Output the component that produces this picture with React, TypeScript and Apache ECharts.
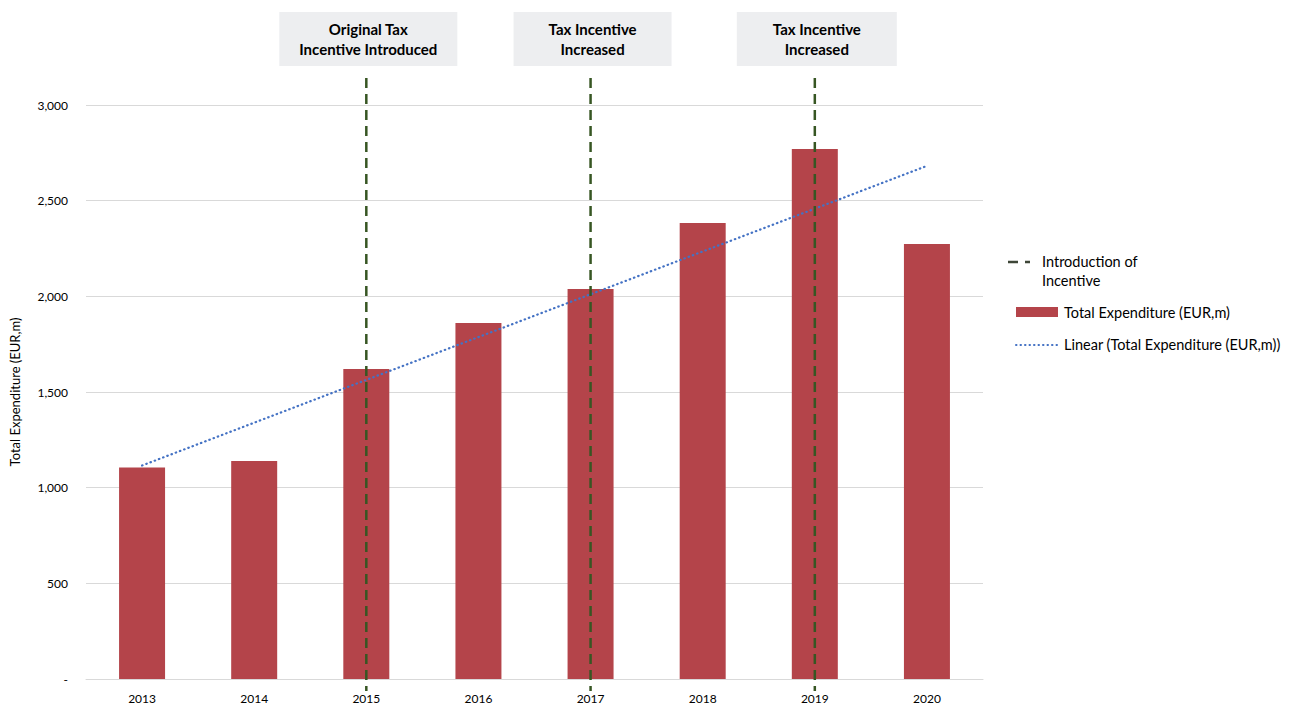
import React, { useEffect, useRef } from "react";
import * as echarts from "echarts";

const years = ["2013", "2014", "2015", "2016", "2017", "2018", "2019", "2020"];
const expenditure = [1105, 1140, 1620, 1861, 2038, 2383, 2770, 2273];
const incentiveYears = ["2015", "2017", "2019"];
const incentiveLabels = [
  "Original Tax\nIncentive Introduced",
  "Tax Incentive\nIncreased",
  "Tax Incentive\nIncreased",
];
const barName = "Total Expenditure (EUR,m)";
const trendName = "Linear (Total Expenditure (EUR,m))";
const incentiveName = "Introduction of\nIncentive";
const yAxisTitle = "Total Expenditure (EUR,m)";

function linearTrend(values: number[]): number[] {
  const n = values.length;
  const mx = (n - 1) / 2;
  const my = values.reduce((a, b) => a + b, 0) / n;
  let sxy = 0;
  let sxx = 0;
  values.forEach((v, i) => {
    sxy += (i - mx) * (v - my);
    sxx += (i - mx) * (i - mx);
  });
  const slope = sxy / sxx;
  const icpt = my - slope * mx;
  return values.map((_, i) => Math.round((icpt + slope * i) * 10) / 10);
}

const FONT = "Lato, 'Noto Sans', sans-serif";
const BOX_FONT = "bold 15px Lato, 'Noto Sans', sans-serif";
const BOX_WIDTHS = [178, 158, 160];

export default function App() {
  const ref = useRef<HTMLDivElement>(null);
  useEffect(() => {
    if (!ref.current) return;
    const chart = echarts.init(ref.current, undefined, { renderer: "svg" });
    const trend = linearTrend(expenditure);
    chart.setOption({
      animation: false,
      backgroundColor: "#ffffff",
      grid: {
        left: 86,
        right: 313,
        top: 105,
        bottom: 28,
        containLabel: false,
        outerBoundsMode: "none",
      },
      xAxis: {
        type: "category",
        data: years,
        axisLine: { show: true, lineStyle: { color: "#D9D9D9", width: 1 } },
        axisTick: { show: false },
        axisLabel: { color: "#000", fontFamily: FONT, fontSize: 12, margin: 13 },
      },
      yAxis: {
        type: "value",
        min: 0,
        max: 3000,
        interval: 500,
        name: yAxisTitle,
        nameLocation: "middle",
        nameGap: 65,
        nameTextStyle: { color: "#000", fontFamily: FONT, fontSize: 13 },
        axisLine: { show: false },
        axisTick: { show: false },
        splitLine: { lineStyle: { color: "#D9D9D9", width: 1 } },
        axisLabel: {
          color: "#000",
          fontFamily: FONT,
          fontSize: 12,
          margin: 18,
          formatter: (v: number) => (v === 0 ? "-" : v.toLocaleString("en-US")),
        },
      },
      series: [
        {
          name: barName,
          type: "bar",
          data: expenditure,
          barWidth: 46,
          itemStyle: { color: "#B4444A" },
          z: 2,
        },
        {
          name: trendName,
          type: "line",
          data: trend,
          symbol: "none",
          lineStyle: { color: "#4472C4", width: 2.2, type: [0.5, 4], cap: "round" },
          z: 3,
        },
      ],
    });

    const top = chart.convertToPixel({ yAxisIndex: 0 }, 3000) as number;
    const bottom = chart.convertToPixel({ yAxisIndex: 0 }, 0) as number;
    const graphics: any[] = [];
    incentiveYears.forEach((yr, i) => {
      const x = chart.convertToPixel({ xAxisIndex: 0 }, yr) as number;
      graphics.push({
        type: "line",
        shape: { x1: x, y1: top - 27, x2: x, y2: bottom + 12 },
        style: { stroke: "#375623", lineWidth: 2.5, lineDash: [10, 6] },
        z: 10,
      });
      const w = BOX_WIDTHS[i];
      graphics.push({
        type: "rect",
        shape: { x: x - w / 2 + 2, y: 12, width: w, height: 54 },
        style: { fill: "#EDEEF0" },
        z: 9,
      });
      graphics.push({
        type: "text",
        x: x + 2,
        y: 39,
        style: {
          text: incentiveLabels[i],
          font: BOX_FONT,
          fill: "#000",
          align: "center",
          verticalAlign: "middle",
          lineHeight: 20,
        },
        z: 10,
      });
    });
    // legend
    const lx = 1008;
    const LFONT = `14.5px ${FONT}`;
    graphics.push({
      type: "line",
      shape: { x1: lx, y1: 262, x2: lx + 22, y2: 262 },
      style: { stroke: "#3E4637", lineWidth: 2.5, lineDash: [10, 7] },
    });
    graphics.push({
      type: "text",
      x: lx + 34,
      y: 252,
      style: { text: incentiveName, font: LFONT, fill: "#000", lineHeight: 19, verticalAlign: "top" },
    });
    graphics.push({
      type: "rect",
      shape: { x: lx + 8, y: 307, width: 42, height: 10 },
      style: { fill: "#B4444A" },
    });
    graphics.push({
      type: "text",
      x: lx + 56,
      y: 312,
      style: { text: barName, font: LFONT, fill: "#000", verticalAlign: "middle" },
    });
    graphics.push({
      type: "line",
      shape: { x1: lx + 8, y1: 345, x2: lx + 50, y2: 345 },
      style: { stroke: "#4472C4", lineWidth: 2, lineDash: [0.5, 4], lineCap: "round" },
    });
    graphics.push({
      type: "text",
      x: lx + 56,
      y: 344,
      style: { text: trendName, font: LFONT, fill: "#000", verticalAlign: "middle" },
    });
    chart.setOption({ graphic: graphics });

    return () => chart.dispose();
  }, []);
  return (
    <div
      ref={ref}
      style={{ position: "fixed", left: 0, top: 0, width: 1296, height: 707 }}
    />
  );
}
